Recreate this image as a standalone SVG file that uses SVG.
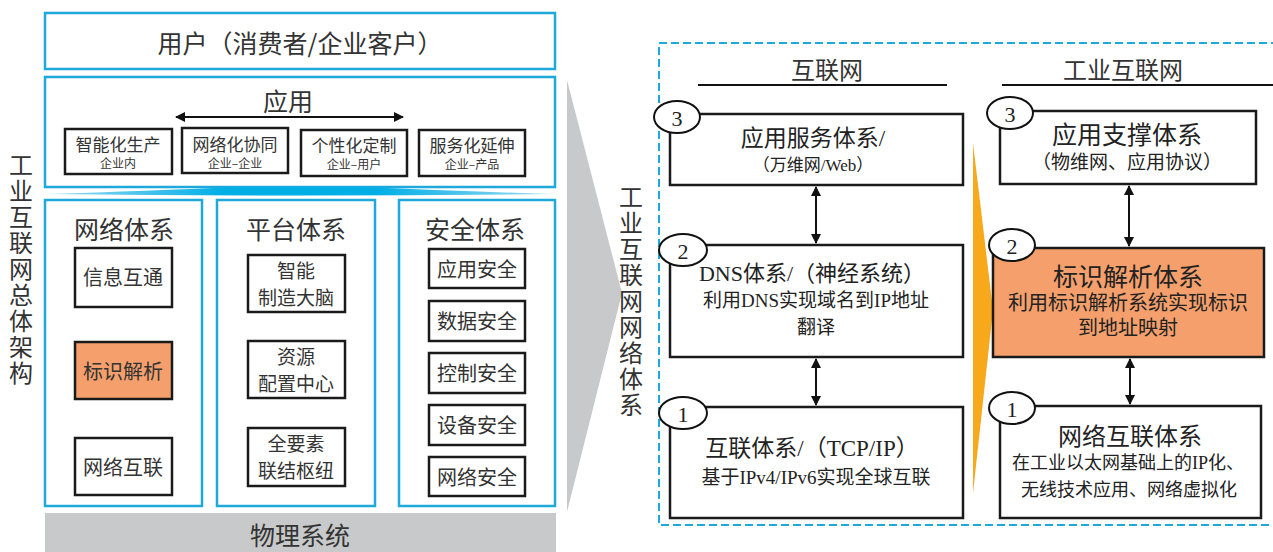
<svg xmlns="http://www.w3.org/2000/svg" width="1273" height="552" viewBox="0 0 1273 552">
<defs>
<style>
.cy{fill:#fff;stroke:#1fa8dc;stroke-width:2.5}
.bk{fill:#fff;stroke:#1a1a1a;stroke-width:2.5}
.or{fill:#f5a06c;stroke:#1a1a1a;stroke-width:2.5}
.t{font-family:"Noto Sans CJK SC","Noto Sans",sans-serif;fill:#333;text-anchor:middle;dominant-baseline:central}
.s{font-family:"Liberation Serif","Noto Sans CJK SC",serif;fill:#222;text-anchor:middle;dominant-baseline:central}
.v{font-family:"Noto Sans CJK SC","Noto Sans",sans-serif;fill:#333;text-anchor:middle;dominant-baseline:central;writing-mode:vertical-rl;letter-spacing:2px}
.cir{fill:#fff;stroke:#111;stroke-width:2}
.ln{stroke:#111;stroke-width:2;fill:none}
</style>
<marker id="ah" viewBox="0 0 10 10" refX="9" refY="5" markerWidth="10" markerHeight="10" markerUnits="userSpaceOnUse" orient="auto-start-reverse">
<path d="M0,0 L10,5 L0,10 Z" fill="#111"/>
</marker>
<linearGradient id="strip" x1="0" x2="1" y1="0" y2="0">
<stop offset="0" stop-color="#9fdcf2"/>
<stop offset="0.35" stop-color="#00aee6"/>
<stop offset="0.65" stop-color="#00aee6"/>
<stop offset="1" stop-color="#9fdcf2"/>
</linearGradient>
</defs>
<rect x="0" y="0" width="1273" height="552" fill="#fff"/>

<g id="label-left">
<text class="v" font-size="24" x="21" y="270">工业互联网总体架构</text>
</g>

<g id="user">
<rect class="cy" x="45" y="13" width="510" height="56"/>
<text class="t" font-size="25" x="300" y="42">用户（消费者/企业客户）</text>
</g>

<g id="app">
<rect class="cy" x="45" y="77" width="510" height="110"/>
<text class="t" font-size="25" x="288" y="100">应用</text>
<g id="app1"><rect class="bk" x="65" y="129" width="107" height="45"/><text class="t" x="118"><tspan x="118" y="143" font-size="17">智能化生产</tspan><tspan x="118" y="162" font-size="12">企业内</tspan></text></g>
<g id="app2"><rect class="bk" x="182" y="128" width="106" height="45"/><text class="t" x="235"><tspan x="235" y="143" font-size="17">网络化协同</tspan><tspan x="235" y="162" font-size="12">企业–企业</tspan></text></g>
<g id="app3"><rect class="bk" x="301" y="130" width="106" height="46"/><text class="t" x="354"><tspan x="354" y="144" font-size="17">个性化定制</tspan><tspan x="354" y="163" font-size="12">企业–用户</tspan></text></g>
<g id="app4"><rect class="bk" x="419" y="130" width="106" height="46"/><text class="t" x="472"><tspan x="472" y="144" font-size="17">服务化延伸</tspan><tspan x="472" y="163" font-size="12">企业–产品</tspan></text></g>
</g>

<path id="strip" d="M46,194 Q150,191 235,187 L365,187 Q450,191 553,194 Q300,197 46,194 Z" fill="url(#strip)"/>

<g id="net">
<rect class="cy" x="45" y="200" width="157" height="306"/>
<text class="t" font-size="25" x="124" y="228">网络体系</text>
<g id="net1"><rect class="bk" x="75" y="248" width="97" height="59"/><text class="t" font-size="20" x="123" y="276">信息互通</text></g>
<g id="net2"><rect class="or" x="75" y="342" width="97" height="57"/><text class="t" font-size="20" x="123" y="370">标识解析</text></g>
<g id="net3"><rect class="bk" x="75" y="438" width="97" height="57"/><text class="t" font-size="20" x="123" y="466">网络互联</text></g>
</g>

<g id="plat">
<rect class="cy" x="217" y="200" width="158" height="306"/>
<text class="t" font-size="25" x="296" y="228">平台体系</text>
<g id="plat1"><rect class="bk" x="248" y="255" width="97" height="57"/><text class="t" font-size="19" x="296"><tspan x="296" y="269">智能</tspan><tspan x="296" y="296">制造大脑</tspan></text></g>
<g id="plat2"><rect class="bk" x="248" y="341" width="97" height="57"/><text class="t" font-size="19" x="296"><tspan x="296" y="355">资源</tspan><tspan x="296" y="382">配置中心</tspan></text></g>
<g id="plat3"><rect class="bk" x="248" y="428" width="97" height="58"/><text class="t" font-size="19" x="296"><tspan x="296" y="442">全要素</tspan><tspan x="296" y="469">联结枢纽</tspan></text></g>
</g>

<g id="sec">
<rect class="cy" x="399" y="200" width="156" height="306"/>
<text class="t" font-size="25" x="475" y="228">安全体系</text>
<g id="sec1"><rect class="bk" x="429" y="249" width="96" height="39"/><text class="t" font-size="20" x="477" y="268">应用安全</text></g>
<g id="sec2"><rect class="bk" x="429" y="301" width="96" height="40"/><text class="t" font-size="20" x="477" y="320">数据安全</text></g>
<g id="sec3"><rect class="bk" x="429" y="353" width="96" height="40"/><text class="t" font-size="20" x="477" y="372">控制安全</text></g>
<g id="sec4"><rect class="bk" x="429" y="405" width="96" height="40"/><text class="t" font-size="20" x="477" y="424">设备安全</text></g>
<g id="sec5"><rect class="bk" x="429" y="457" width="96" height="39"/><text class="t" font-size="20" x="477" y="476">网络安全</text></g>
</g>

<g id="phys">
<rect x="45" y="513" width="511" height="45" fill="#c8c9ca"/>
<text class="t" font-size="25" x="300" y="534">物理系统</text>
</g>

<polygon id="chevron" points="567,80 622,293 567,512" fill="#c8c9ca"/>

<g id="label-right">
<text class="v" font-size="24" x="631" y="302">工业互联网网络体系</text>
</g>

<rect id="dash" x="659" y="43" width="640" height="482" fill="none" stroke="#1fa8dc" stroke-width="2" stroke-dasharray="8,4"/>

<polygon id="orange-wedge" points="973,143 993,310 973,493" fill="#f7a81b"/>

<g id="hdr-internet">
<text class="t" font-size="24" x="827" y="68">互联网</text>
<line class="ln" x1="698" y1="85" x2="947" y2="85"/>
</g>
<g id="hdr-iinternet">
<text class="t" font-size="24" x="1123" y="68">工业互联网</text>
<line class="ln" x1="1002" y1="85" x2="1273" y2="85"/>
</g>

<g id="connectors">
<line class="ln" x1="816" y1="187" x2="816" y2="243" marker-start="url(#ah)" marker-end="url(#ah)"/>
<line class="ln" x1="816" y1="359" x2="816" y2="405" marker-start="url(#ah)" marker-end="url(#ah)"/>
<line class="ln" x1="1129" y1="186" x2="1129" y2="246" marker-start="url(#ah)" marker-end="url(#ah)"/>
<line class="ln" x1="1130" y1="359" x2="1130" y2="404" marker-start="url(#ah)" marker-end="url(#ah)"/>
<line class="ln" x1="176" y1="117" x2="403" y2="117" marker-start="url(#ah)" marker-end="url(#ah)"/>
</g>

<g id="web">
<rect class="bk" x="670" y="114" width="293" height="71"/>
<text class="s" x="813"><tspan x="813" y="138" font-size="23">应用服务体系/</tspan><tspan x="813" y="165" font-size="17">（万维网/Web）</tspan></text>
<ellipse class="cir" cx="677" cy="117" rx="23" ry="16"/>
<text class="s" font-size="22" x="677" y="118">3</text>
</g>

<g id="dns">
<rect class="bk" x="670" y="245" width="293" height="112"/>
<text class="s" x="814"><tspan x="812" y="273" font-size="22">DNS体系/（神经系统）</tspan><tspan x="816" y="300" font-size="19">利用DNS实现域名到IP地址</tspan><tspan x="816" y="327" font-size="19">翻译</tspan></text>
<ellipse class="cir" cx="683" cy="250" rx="24" ry="16"/>
<text class="s" font-size="22" x="683" y="251">2</text>
</g>

<g id="tcp">
<rect class="bk" x="670" y="407" width="293" height="111"/>
<text class="s" x="814"><tspan x="812" y="448" font-size="23">互联体系/（TCP/IP）</tspan><tspan x="816" y="477" font-size="19">基于IPv4/IPv6实现全球互联</tspan></text>
<ellipse class="cir" cx="683" cy="413" rx="24" ry="16"/>
<text class="s" font-size="22" x="683" y="414">1</text>
</g>

<g id="appsup">
<rect class="bk" x="1000" y="111" width="256" height="73"/>
<text class="s" x="1127"><tspan x="1127" y="135" font-size="25">应用支撑体系</tspan><tspan x="1127" y="162" font-size="19">（物维网、应用协议）</tspan></text>
<ellipse class="cir" cx="1010" cy="113" rx="23" ry="16"/>
<text class="s" font-size="22" x="1010" y="114">3</text>
</g>

<g id="idres">
<rect class="or" x="993" y="248" width="271" height="109"/>
<text class="s" x="1128"><tspan x="1128" y="277" font-size="25">标识解析体系</tspan><tspan x="1128" y="303" font-size="20">利用标识解析系统实现标识</tspan><tspan x="1128" y="328" font-size="20">到地址映射</tspan></text>
<ellipse class="cir" cx="1012" cy="245" rx="23" ry="16"/>
<text class="s" font-size="22" x="1012" y="246">2</text>
</g>

<g id="netint">
<rect class="bk" x="1000" y="406" width="261" height="112"/>
<text class="s" x="1129"><tspan x="1130" y="437" font-size="24">网络互联体系</tspan><tspan x="1128" y="463" font-size="18">在工业以太网基础上的IP化、</tspan><tspan x="1129" y="490" font-size="18">无线技术应用、网络虚拟化</tspan></text>
<ellipse class="cir" cx="1012" cy="408" rx="23" ry="16"/>
<text class="s" font-size="22" x="1012" y="409">1</text>
</g>
</svg>
